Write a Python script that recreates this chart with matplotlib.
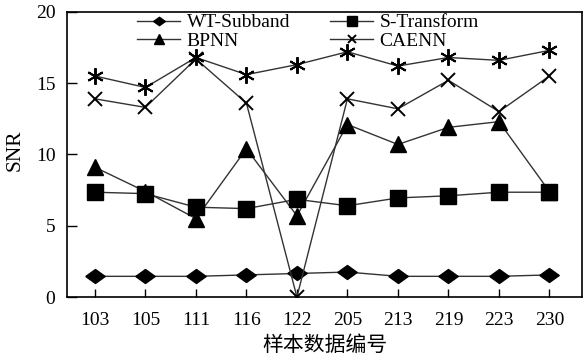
import matplotlib
matplotlib.use("Agg")
import matplotlib.pyplot as plt

categories = ["103", "105", "111", "116", "122", "205", "213", "219", "223", "230"]
wt_subband = [1.45, 1.45, 1.45, 1.55, 1.65, 1.75, 1.45, 1.45, 1.45, 1.55]
s_transform = [7.35, 7.25, 6.3, 6.2, 6.85, 6.4, 6.95, 7.1, 7.35, 7.35]
bpnn = [9.1, 7.4, 5.5, 10.4, 5.7, 12.1, 10.7, 11.9, 12.3, 7.4]
caenn = [13.9, 13.3, 16.7, 13.6, 0.0, 13.9, 13.2, 15.2, 13.0, 15.5]
proposed = [15.5, 14.7, 16.8, 15.6, 16.3, 17.2, 16.2, 16.8, 16.6, 17.3]

plt.rcParams['font.family'] = ['Liberation Serif', 'Noto Sans CJK SC']

fig = plt.figure(figsize=(5.84, 3.6), dpi=100)
ax = fig.add_axes([0.115, 0.175, 0.882, 0.792])
x = list(range(len(categories)))
lc = '#333333'
lw = 1.0
diamond = [(-1, 0), (0, 0.72), (1, 0), (0, -0.72), (-1, 0)]
ax.plot(x, proposed, color=lc, lw=lw, marker=(6, 2, 0), ms=12, mew=1.4, mec='black')
ax.plot(x, wt_subband, color=lc, lw=lw, marker=diamond, ms=14, mfc='black', mec='black', label='WT-Subband')
ax.plot(x, bpnn, color=lc, lw=lw, marker='^', ms=11, mfc='black', mec='black', label='BPNN')
ax.plot(x, s_transform, color=lc, lw=lw, marker='s', ms=12, mfc='black', mec='black', label='S-Transform')
ax.plot(x, caenn, color=lc, lw=lw, marker='x', ms=10, mew=1.4, mec='black', label='CAENN')

ax.set_xlim(-0.55, 9.65)
ax.set_ylim(0, 20)
ax.set_xticks(x)
ax.set_xticklabels(categories)
ax.set_yticks([0, 5, 10, 15, 20])
ax.tick_params(direction='in', labelsize=14, width=1)
ax.tick_params(axis='x', pad=10.5, length=6)
ax.tick_params(axis='y', pad=8.5, length=7)
for s in ax.spines.values():
    s.set_linewidth(1.2)
ax.set_ylabel('SNR', fontsize=15.5)
ax.yaxis.set_label_coords(-0.082, 0.516)
ax.set_xlabel('样本数据编号', fontsize=15, family=['Noto Sans CJK SC'], labelpad=4)

h, l = ax.get_legend_handles_labels()
order = [l.index('WT-Subband'), l.index('BPNN'), l.index('S-Transform'), l.index('CAENN')]
ax.legend([h[i] for i in order], [l[i] for i in order], ncol=2, frameon=False,
          loc='upper left', bbox_to_anchor=(0.136, 0.993), fontsize=14,
          handlelength=2.2, columnspacing=2.05, labelspacing=0.05, handletextpad=0.35,
          borderaxespad=0.0, borderpad=0.0, markerscale=0.6)

fig.savefig('out.png', dpi=100)
